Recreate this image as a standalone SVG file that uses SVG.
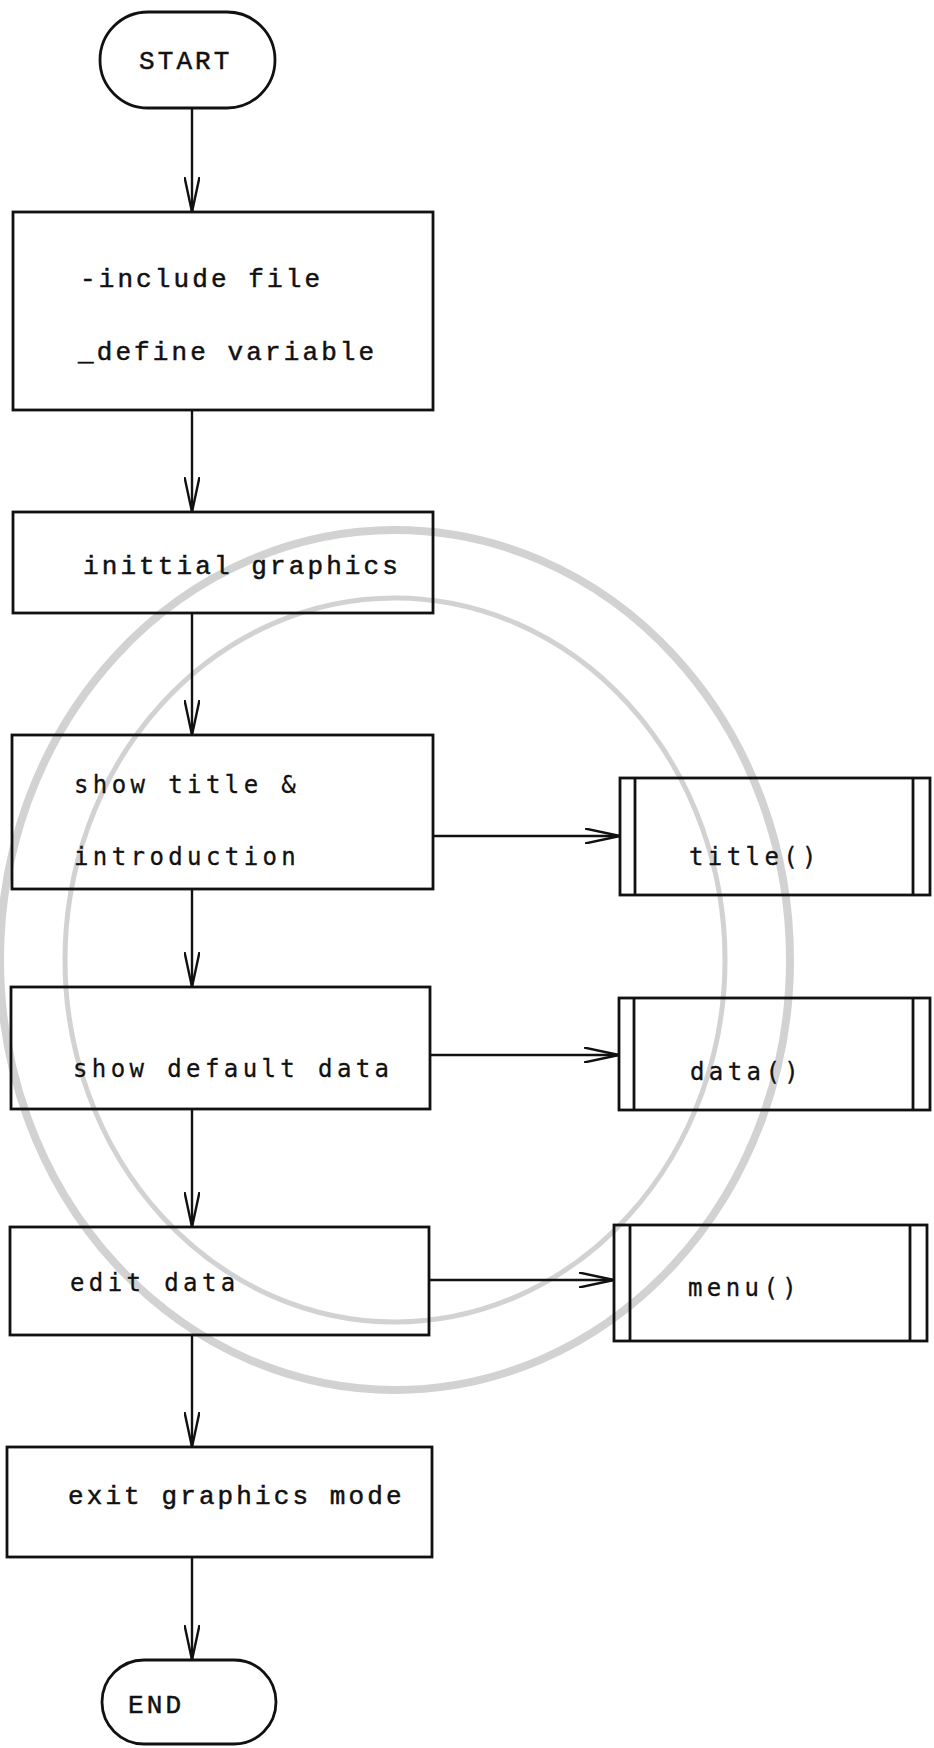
<svg xmlns="http://www.w3.org/2000/svg" width="934" height="1748" viewBox="0 0 934 1748">
<style>
.bg{fill:#ffffff}
.wm{fill:none;stroke:#d2d2d2}
.box{fill:none;stroke:#111;stroke-width:2.8}
.ln{fill:none;stroke:#111;stroke-width:2.4}
.t{font-family:"Liberation Mono","DejaVu Sans Mono",monospace;font-size:26px;letter-spacing:3.1px;fill:#111;stroke:#111;stroke-width:0.5}
.s{font-family:"DejaVu Sans Mono","Liberation Mono",monospace;font-size:24px;letter-spacing:4.4px;fill:#111;stroke:#111;stroke-width:0.3}
</style>
<defs>
<marker id="arr" viewBox="0 0 36 16" refX="35" refY="8" markerWidth="36" markerHeight="16" markerUnits="userSpaceOnUse" orient="auto">
<path d="M0,0.5 L35,8 L0,15.5" fill="none" stroke="#111" stroke-width="2.4"/>
</marker>
</defs>
<rect class="bg" x="0" y="0" width="934" height="1748"/>
<g id="watermark">
<ellipse class="wm" cx="395" cy="960" rx="395" ry="430" stroke-width="8"/>
<ellipse class="wm" cx="395" cy="960" rx="330" ry="362" stroke-width="5"/>
</g>
<g id="connectors">
<line class="ln" x1="192" y1="108" x2="192" y2="212" marker-end="url(#arr)"/>
<line class="ln" x1="192" y1="410" x2="192" y2="512" marker-end="url(#arr)"/>
<line class="ln" x1="192" y1="613" x2="192" y2="735" marker-end="url(#arr)"/>
<line class="ln" x1="192" y1="889" x2="192" y2="987" marker-end="url(#arr)"/>
<line class="ln" x1="192" y1="1109" x2="192" y2="1227" marker-end="url(#arr)"/>
<line class="ln" x1="192" y1="1335" x2="192" y2="1447" marker-end="url(#arr)"/>
<line class="ln" x1="192" y1="1557" x2="192" y2="1660" marker-end="url(#arr)"/>
<line class="ln" x1="433" y1="836" x2="620" y2="836" marker-end="url(#arr)"/>
<line class="ln" x1="430" y1="1055" x2="619" y2="1055" marker-end="url(#arr)"/>
<line class="ln" x1="429" y1="1280" x2="614" y2="1280" marker-end="url(#arr)"/>
</g>
<g id="start">
<rect class="box" x="100" y="12" width="175" height="96" rx="48" ry="48"/>
<text class="t" x="139" y="69">START</text>
</g>
<g id="include">
<rect class="box" x="13" y="212" width="420" height="198"/>
<text class="t" x="80" y="287">-include file</text>
<text class="t" x="78" y="360">_define variable</text>
</g>
<g id="initgraph">
<rect class="box" x="13" y="512" width="420" height="101"/>
<text class="t" x="83" y="574">inittial graphics</text>
</g>
<g id="showtitle">
<rect class="box" x="12" y="735" width="421" height="154"/>
<text class="s" x="74" y="793">show title &amp;</text>
<text class="s" x="74" y="865">introduction</text>
</g>
<g id="title">
<rect class="box" x="620" y="778" width="310" height="117"/>
<line class="box" x1="635" y1="778" x2="635" y2="895"/>
<line class="box" x1="913" y1="778" x2="913" y2="895"/>
<text class="s" x="689" y="865">title()</text>
</g>
<g id="showdefault">
<rect class="box" x="11" y="987" width="419" height="122"/>
<text class="s" x="73" y="1077">show default data</text>
</g>
<g id="data">
<rect class="box" x="619" y="998" width="311" height="112"/>
<line class="box" x1="634" y1="998" x2="634" y2="1110"/>
<line class="box" x1="913" y1="998" x2="913" y2="1110"/>
<text class="s" x="690" y="1080">data()</text>
</g>
<g id="editdata">
<rect class="box" x="10" y="1227" width="419" height="108"/>
<text class="s" x="70" y="1291">edit data</text>
</g>
<g id="menu">
<rect class="box" x="614" y="1225" width="313" height="116"/>
<line class="box" x1="630" y1="1225" x2="630" y2="1341"/>
<line class="box" x1="910" y1="1225" x2="910" y2="1341"/>
<text class="s" x="688" y="1296">menu()</text>
</g>
<g id="exitgraph">
<rect class="box" x="7" y="1447" width="425" height="110"/>
<text class="t" x="68" y="1504">exit graphics mode</text>
</g>
<g id="end">
<rect class="box" x="102" y="1660" width="174" height="84" rx="42" ry="42"/>
<text class="t" x="128" y="1713" letter-spacing="7">END</text>
</g>
</svg>
